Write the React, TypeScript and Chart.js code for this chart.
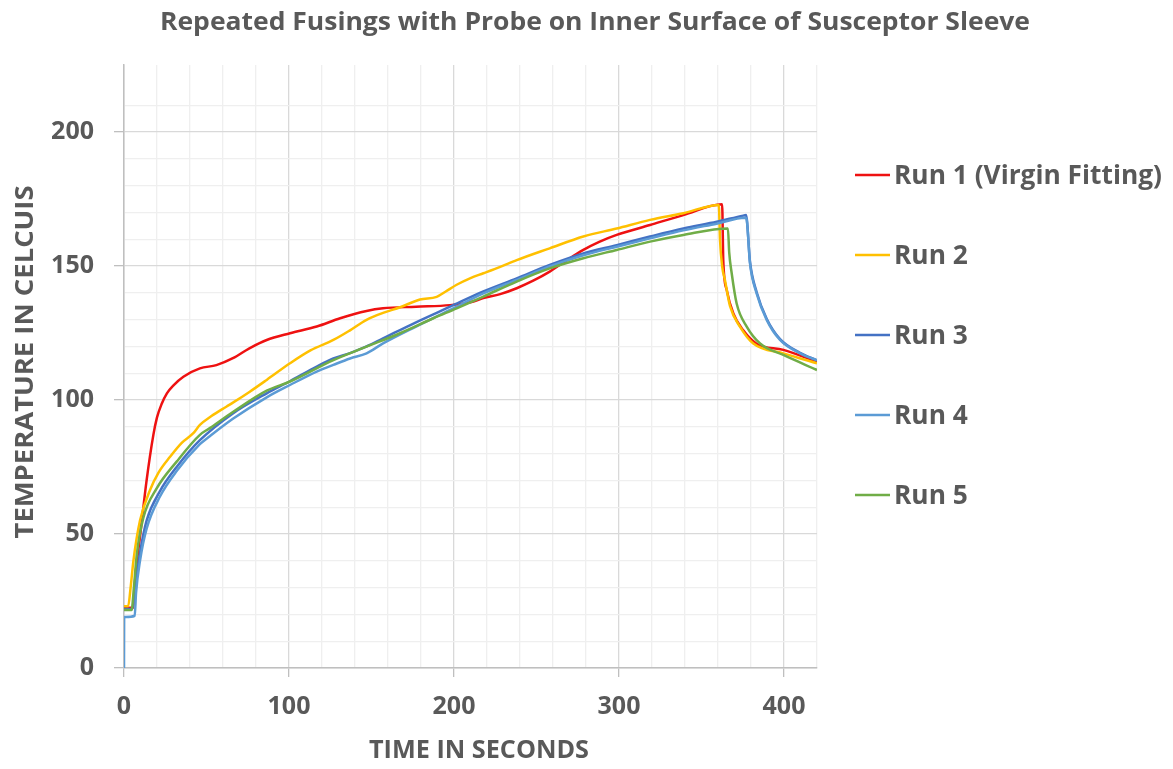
import React, { useEffect, useRef } from "react";
import { Chart, registerables } from "chart.js";

Chart.register(...registerables);

const chartTitle = "Repeated Fusings with Probe on Inner Surface of Susceptor Sleeve";
const xAxisTitle = "TIME IN SECONDS";
const yAxisTitle = "TEMPERATURE IN CELCUIS";

const seriesNames = ["Run 1 (Virgin Fitting)", "Run 2", "Run 3", "Run 4", "Run 5"];
const seriesColors = ["#EE1111", "#FFC000", "#4472C4", "#5B9BD5", "#70AD47"];

const run1T = [0, 5.5, 7, 9.7, 13.7, 17.8, 20, 22.8, 26, 30, 36, 46, 56, 66, 76, 86.5, 100.6, 116.8, 131, 147, 157, 177, 197.6, 210, 217.8, 228, 238, 248, 258, 268, 278.4, 288, 298.6, 318.8, 339, 362.5, 363.2, 365.3, 369.3, 375.3, 383.4, 399.6, 420];
const run1Y = [22.5, 22.5, 35, 49, 70, 87, 93.5, 98.5, 102.5, 105.5, 108.7, 111.8, 113, 115.6, 119.3, 122.4, 124.9, 127.4, 130.5, 133.2, 134.2, 134.8, 135.4, 136.5, 138, 139.5, 141.7, 144.5, 147.9, 152, 156, 159, 161.6, 165.3, 169, 173, 152, 141, 132.3, 126, 121, 118.7, 114.3];

const run2T = [0, 2.5, 4, 5.7, 9.7, 15.8, 21, 27.9, 35, 42, 46, 53, 62, 66, 76, 86.5, 100.6, 113, 126.9, 137, 147, 157, 167.3, 179.4, 189.5, 195, 201.6, 210, 217.8, 228, 238, 258, 278.4, 298.6, 318.8, 339, 360.5, 361.2, 362.5, 364.2, 367.3, 373.3, 381.4, 399.6, 420];
const run2Y = [23, 23, 30, 40, 55, 66.4, 73, 78.8, 84, 87.6, 90.7, 94, 97.5, 99, 103, 107.5, 113.7, 118.5, 122.4, 126, 129.9, 132.5, 134.6, 137.5, 138.5, 140.5, 143, 145.5, 147.3, 149.7, 152.2, 156.6, 161, 164, 167.2, 169.7, 172.8, 160, 150, 144.8, 135, 127.4, 121.1, 117.4, 113.7];

const run3T = [0, 5, 6.5, 9.7, 13.7, 21.8, 31.9, 46, 66, 86.5, 100.6, 116.8, 126.9, 137, 147, 157, 177, 197.6, 217.8, 238, 258, 278.4, 298.6, 318.8, 339, 359.2, 375.3, 377, 379.4, 383.4, 389.5, 397.6, 409.7, 420];
const run3Y = [22, 22, 29, 43, 55, 66, 75, 85, 95, 102.5, 107, 112.5, 115.5, 117.5, 120, 123, 129, 134.8, 140.5, 145.4, 150.4, 154.7, 157.8, 161, 164, 166.5, 168.8, 169, 151.5, 140.3, 130.3, 122.7, 117.6, 114.8];

const run4T = [0, 0.1, 1, 6.5, 7.3, 9.7, 13.7, 21.8, 31.9, 46, 52, 66, 86.5, 100.6, 116.8, 126.9, 137, 147, 157, 177, 197.6, 217.8, 238, 258, 278.4, 298.6, 318.8, 339, 359.2, 376.5, 377.3, 379.4, 383.4, 389.5, 397.6, 409.7, 420];
const run4Y = [0, 19, 19, 19.5, 28, 40, 52, 64, 73.5, 83.5, 86.5, 93, 101, 105.6, 110.6, 113.1, 115.5, 117.4, 121.1, 127.4, 133.6, 139.8, 144.8, 149.8, 154, 157.2, 160.3, 163.3, 165.8, 168, 167.5, 151, 139.8, 129.9, 122.4, 117.4, 114.8];

const run5T = [0, 4.6, 6, 7.7, 11.7, 19.8, 31.9, 46, 52, 66, 86.5, 100.6, 126.9, 147, 167.3, 187.5, 201.6, 217.8, 238, 258, 278.4, 298.6, 318.8, 339, 366, 366.8, 368.3, 371.3, 377.4, 385.5, 399.6, 420];
const run5Y = [21.6, 21.6, 30, 42, 56, 67, 77, 87, 89.5, 95.5, 103.5, 106.9, 114.9, 119.9, 124.9, 130.5, 134.2, 138.6, 144.2, 149.1, 152.9, 156, 159.1, 161.6, 164, 155, 147.3, 136, 127.4, 121.1, 116.8, 111.2];

const seriesT = [run1T, run2T, run3T, run4T, run5T];
const seriesY = [run1Y, run2Y, run3Y, run4Y, run5Y];

const xMin = 0, xMax = 420, xStep = 20, xMajor = 100;
const yMin = 0, yMax = 225, yStep = 10, yMajor = 50;

const TEXT = "#595959";
const FONT = "'Open Sans', sans-serif";

function drawFitText(ctx: CanvasRenderingContext2D, text: string, x: number, y: number, size: number, width: number, align: "left" | "center", rotate = 0) {
  ctx.save();
  ctx.font = `bold ${size}px ${FONT}`;
  const w = ctx.measureText(text).width;
  const sx = width / w;
  ctx.translate(x, y);
  if (rotate) ctx.rotate(rotate);
  ctx.scale(sx, 1);
  ctx.textBaseline = "middle";
  ctx.textAlign = align;
  ctx.fillStyle = TEXT;
  ctx.fillText(text, 0, 0);
  ctx.restore();
}

function textWidth(ctx: CanvasRenderingContext2D, text: string, size: number) {
  ctx.save();
  ctx.font = `bold ${size}px ${FONT}`;
  const w = ctx.measureText(text).width;
  ctx.restore();
  return w;
}

const overlayPlugin = {
  id: "overlay",
  afterDraw(chart: any) {
    const ctx = chart.ctx as CanvasRenderingContext2D;
    drawFitText(ctx, chartTitle, 595, 23, 25, 870, "center");
    drawFitText(ctx, xAxisTitle, 479, 751, 25, 220, "center");
    drawFitText(ctx, yAxisTitle, 26, 362, 25, 353, "center", -Math.PI / 2);
    const rowY = [175, 255, 335, 415, 495];
    const legendScale = 268 / textWidth(ctx, seriesNames[0], 27);
    seriesNames.forEach((name, i) => {
      ctx.save();
      ctx.strokeStyle = seriesColors[i];
      ctx.lineWidth = 2.5;
      ctx.beginPath();
      ctx.moveTo(855, rowY[i]);
      ctx.lineTo(890, rowY[i]);
      ctx.stroke();
      ctx.restore();
      drawFitText(ctx, name, 894, rowY[i] + 1, 27, textWidth(ctx, name, 27) * legendScale, "left");
    });
  },
};

export default function App() {
  const ref = useRef<HTMLCanvasElement>(null);
  useEffect(() => {
    if (!ref.current) return;
    const datasets = seriesNames.map((name, i) => ({
      label: name,
      data: seriesT[i].map((t, k) => ({ x: t, y: seriesY[i][k] })),
      borderColor: seriesColors[i],
      backgroundColor: seriesColors[i],
      borderWidth: 2.5,
      pointRadius: 0,
      order: -i,
      cubicInterpolationMode: "monotone" as const,
      fill: false,
    }));
    const chart = new Chart(ref.current, {
      type: "line",
      data: { datasets },
      plugins: [overlayPlugin],
      options: {
        animation: false,
        responsive: false,
        maintainAspectRatio: false,
        layout: { padding: { top: 65, right: 356, left: 0, bottom: 0 } },
        plugins: {
          legend: { display: false },
          title: { display: false },
          tooltip: { enabled: false },
        },
        scales: {
          x: {
            type: "linear",
            min: xMin,
            max: xMax,
            afterFit: (s: any) => { s.height = 101; },
            ticks: {
              stepSize: xStep,
              autoSkip: false,
              maxRotation: 0,
              padding: 15,
              color: TEXT,
              font: { family: FONT, size: 25, weight: "bold" },
              callback: (v: any) => (Number(v) % xMajor === 0 ? String(v) : ""),
            },
            grid: {
              color: (c: any) => (c.tick && c.tick.value % xMajor === 0 ? "#d9d9d9" : "#efefef"),
              tickColor: (c: any) => (c.tick && c.tick.value % xMajor === 0 ? "#bfbfbf" : "rgba(0,0,0,0)"),
              tickLength: 9,
              lineWidth: 1.3,
            },
            border: { color: "#bfbfbf", width: 1.5 },
          },
          y: {
            type: "linear",
            min: yMin,
            max: yMax,
            afterFit: (s: any) => { s.width = 124; },
            ticks: {
              stepSize: yStep,
              autoSkip: false,
              padding: 20,
              color: TEXT,
              font: { family: FONT, size: 25, weight: "bold" },
              callback: (v: any) => (Number(v) % yMajor === 0 ? String(v) : ""),
            },
            grid: {
              color: (c: any) => {
                const v = c.tick ? c.tick.value : 0;
                if (v % yStep !== 0) return "rgba(0,0,0,0)";
                return v % yMajor === 0 ? "#d9d9d9" : "#efefef";
              },
              tickColor: (c: any) => (c.tick && c.tick.value % yMajor === 0 ? "#bfbfbf" : "rgba(0,0,0,0)"),
              tickLength: 10,
              lineWidth: 1.3,
            },
            border: { color: "#bfbfbf", width: 1.5 },
          },
        },
      },
    });
    return () => chart.destroy();
  }, []);
  return (
    <div style={{ position: "absolute", left: 0, top: 0, width: 1173, height: 769, background: "#fff" }}>
      <canvas ref={ref} width={1173} height={769} style={{ width: 1173, height: 769, display: "block" }} />
    </div>
  );
}
